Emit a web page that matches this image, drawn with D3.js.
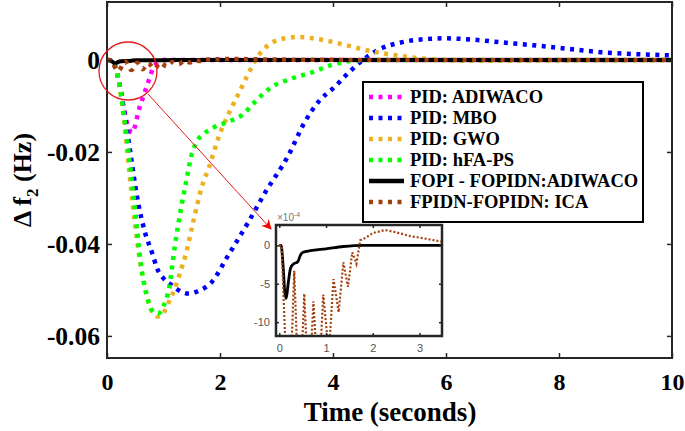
<!DOCTYPE html>
<html>
<head>
<meta charset="UTF-8">
<script src="https://d3js.org/d3.v7.min.js"></script>
<style>
    body { margin: 0; background: #fff; }
    svg { display: block; }
    .serif { font-family: "Liberation Serif", "Times New Roman", serif; font-weight: bold; fill: #000; }
    .tick-main text { font-family: "Liberation Serif", serif; font-weight: bold; font-size: 24px; fill: #000; }
    .tick-inset text { font-family: "Liberation Sans", Arial, sans-serif; font-size: 11px; fill: #555; }
</style>
</head>
<body>
<svg width="685" height="431"></svg>
<script>
// ---- data (t in seconds, Δf2 in Hz) ----
const xTicks = [0, 2, 4, 6, 8, 10];
const yTicks = [0, -0.02, -0.04, -0.06];
const insetXTicks = [0, 1, 2, 3];
const insetYTicks = [0, -5, -10];   // x10^-4

const pidAdiwaco = [[0,0],[0.1,-0.0003],[0.2,-0.004],[0.3,-0.0105],[0.38,-0.0148],[0.45,-0.0158],[0.5,-0.0142],[0.55,-0.0115],[0.64,-0.008],[0.73,-0.0048],[0.81,-0.002],[0.9,-0.0005],[1.0,0],[10,0]];
const pidMbo = [[0,0],[0.1,-0.0003],[0.2,-0.004],[0.3,-0.011],[0.4,-0.019],[0.53,-0.0296],[0.67,-0.0374],[0.8,-0.042],[0.89,-0.0454],[1.0,-0.0475],[1.15,-0.049],[1.3,-0.0503],[1.44,-0.0508],[1.6,-0.0503],[1.86,-0.0482],[2.14,-0.0426],[2.5,-0.0353],[2.8,-0.0288],[3.2,-0.021],[3.5,-0.0135],[3.77,-0.0087],[4.0,-0.0062],[4.3,-0.0025],[4.53,0],[4.8,0.0022],[5.2,0.0038],[5.6,0.0045],[5.95,0.0047],[6.5,0.0044],[7.0,0.0038],[7.54,0.0032],[8.1,0.0025],[8.73,0.0017],[9.3,0.0013],[10,0.001]];
const pidGwo = [[0,0],[0.1,-0.0003],[0.2,-0.004],[0.3,-0.013],[0.4,-0.025],[0.46,-0.032],[0.53,-0.039],[0.6,-0.045],[0.7,-0.051],[0.8,-0.0548],[0.9,-0.0558],[1.0,-0.055],[1.1,-0.0525],[1.2,-0.0497],[1.3,-0.046],[1.4,-0.042],[1.52,-0.0355],[1.68,-0.0275],[1.8,-0.0235],[2.0,-0.016],[2.2,-0.0105],[2.35,-0.0068],[2.5,-0.003],[2.7,0.0013],[2.9,0.0036],[3.1,0.0046],[3.4,0.005],[3.7,0.0046],[4.0,0.0039],[4.3,0.003],[4.6,0.0021],[4.9,0.0014],[5.3,0.0007],[5.8,0.0001],[6.5,-0.0002],[8,-0.0001],[10,0]];
const pidHfaps = [[0,0],[0.1,-0.0003],[0.2,-0.004],[0.3,-0.012],[0.4,-0.022],[0.5,-0.033],[0.6,-0.0445],[0.7,-0.051],[0.8,-0.0545],[0.9,-0.0552],[1.0,-0.0535],[1.1,-0.0495],[1.2,-0.0405],[1.3,-0.033],[1.4,-0.0265],[1.5,-0.0205],[1.6,-0.0175],[1.7,-0.0162],[1.9,-0.0146],[2.15,-0.0134],[2.4,-0.0119],[2.62,-0.0091],[2.9,-0.006],[3.25,-0.0041],[3.6,-0.0028],[4.0,-0.001],[4.6,0],[10,0]];
const fopiAdiwaco = [[0,0],[0.04,0],[0.08,-2.5e-4],[0.12,-6.2e-4],[0.15,-6.9e-4],[0.19,-5e-4],[0.24,-3e-4],[0.29,-2.5e-4],[0.4,-2.1e-4],[0.45,-1.3e-4],[0.51,-0.9e-4],[0.66,-0.7e-4],[1.0,-0.45e-4],[1.37,-0.15e-4],[1.8,0],[10,0]];
const fpidnIca = [[0,0],[0.05,0],[0.2,-24e-4],[0.32,-3.3e-4],[0.43,-22e-4],[0.535,-6.3e-4],[0.63,-20e-4],[0.73,-7.3e-4],[0.84,-19e-4],[0.94,-6.4e-4],[1.06,-14e-4],[1.16,-4.4e-4],[1.27,-8.7e-4],[1.37,-2.2e-4],[1.47,-5.4e-4],[1.56,-0.9e-4],[1.65,-2.4e-4],[1.73,0.65e-4],[1.85,1.0e-4],[2.0,1.6e-4],[2.26,2.0e-4],[2.5,1.7e-4],[2.8,1.2e-4],[3.1,0.9e-4],[3.48,0.47e-4],[4,0.2e-4],[5,0.05e-4],[10,0]];

const series = [
    { name: "PID: ADIWACO", data: pidAdiwaco, color: "#ff00ff", dotted: true },
    { name: "PID: MBO", data: pidMbo, color: "#0000ff", dotted: true },
    { name: "PID: GWO", data: pidGwo, color: "#edb120", dotted: true },
    { name: "PID: hFA-PS", data: pidHfaps, color: "#00ff00", dotted: true },
    { name: "FOPI - FOPIDN:ADIWACO", data: fopiAdiwaco, color: "#000000", dotted: false },
    { name: "FPIDN-FOPIDN: ICA", data: fpidnIca, color: "#a2400f", dotted: true }
];

const svg = d3.select("svg");
const plot = { left: 107, right: 672, top: 2, bottom: 358 };

const x = d3.scaleLinear().domain([0, 10]).range([plot.left, plot.right]);
const y = d3.scaleLinear().domain([-0.0648, 0.0126]).range([plot.bottom, plot.top]);

const defs = svg.append("defs");
defs.append("clipPath").attr("id", "clipMain")
    .append("rect").attr("x", plot.left).attr("y", plot.top)
    .attr("width", plot.right - plot.left).attr("height", plot.bottom - plot.top);

// curves
const line = d3.line().x(d => x(d[0])).y(d => y(d[1])).curve(d3.curveMonotoneX);
const curves = svg.append("g").attr("clip-path", "url(#clipMain)");
series.forEach(s => {
    curves.append("path")
        .attr("d", line(s.data))
        .attr("fill", "none")
        .attr("stroke", s.color)
        .attr("stroke-width", s.dotted ? 4.5 : 4)
        .attr("stroke-dasharray", s.dotted ? "4,5.5" : null);
});

// axes (hyphen minus like the original)
const fmtY = d => d === 0 ? "0" : d3.format(".2f")(d).replace("−", "-");
const gx = svg.append("g").attr("class", "tick-main")
    .attr("transform", `translate(0,${plot.bottom})`)
    .call(d3.axisBottom(x).tickValues(xTicks).tickSizeInner(-5).tickSizeOuter(0).tickPadding(10));
const gxTop = svg.append("g").attr("class", "tick-main")
    .attr("transform", `translate(0,${plot.top})`)
    .call(d3.axisTop(x).tickValues(xTicks).tickSizeInner(-5).tickSizeOuter(0).tickFormat(""));
const gy = svg.append("g").attr("class", "tick-main")
    .attr("transform", `translate(${plot.left},0)`)
    .call(d3.axisLeft(y).tickValues(yTicks).tickSizeInner(-5).tickSizeOuter(0).tickPadding(7).tickFormat(fmtY));
const gyR = svg.append("g").attr("class", "tick-main")
    .attr("transform", `translate(${plot.right},0)`)
    .call(d3.axisRight(y).tickValues(yTicks).tickSizeInner(-5).tickSizeOuter(0).tickFormat(""));
[gx, gxTop, gy, gyR].forEach(g => {
    g.select(".domain").remove();
    g.selectAll(".tick line").attr("stroke", "#262626").attr("stroke-width", 1.5);
});
gx.selectAll(".tick text").attr("dy", "0.9em");
gy.selectAll(".tick text").style("font-size", "25.5px");

svg.append("rect")
    .attr("x", plot.left).attr("y", plot.top)
    .attr("width", plot.right - plot.left).attr("height", plot.bottom - plot.top)
    .attr("fill", "none").attr("stroke", "#262626").attr("stroke-width", 2);

// axis labels
svg.append("text").attr("class", "serif")
    .attr("x", 390).attr("y", 421)
    .attr("text-anchor", "middle").attr("font-size", 27)
    .text("Time (seconds)");

const yl = svg.append("text").attr("class", "serif")
    .attr("transform", "translate(31,180) rotate(-90)")
    .attr("text-anchor", "middle").attr("font-size", 26);
yl.append("tspan").text("Δ  f");
yl.append("tspan").attr("font-size", 17).attr("dy", 7).text("2");
yl.append("tspan").attr("dy", -7).text(" (Hz)");

// legend
const legend = svg.append("g");
legend.append("rect")
    .attr("x", 363).attr("y", 82).attr("width", 280).attr("height", 140)
    .attr("fill", "#fff").attr("stroke", "#000").attr("stroke-width", 2);
series.forEach((s, i) => {
    const ly = 97 + i * 21;
    legend.append("line")
        .attr("x1", 369).attr("x2", 404).attr("y1", ly).attr("y2", ly)
        .attr("stroke", s.color).attr("stroke-width", 4.5)
        .attr("stroke-dasharray", s.dotted ? "4,5.5" : null);
    legend.append("text").attr("class", "serif")
        .attr("x", 410).attr("y", ly).attr("dy", "0.35em")
        .attr("font-size", 18.5).text(s.name);
});

// zoom circle and arrow
defs.append("marker")
    .attr("id", "arrow").attr("viewBox", "0 0 10 10")
    .attr("refX", 9).attr("refY", 5)
    .attr("markerWidth", 10).attr("markerHeight", 10)
    .attr("markerUnits", "userSpaceOnUse")
    .attr("orient", "auto")
    .append("path").attr("d", "M0,0 L10,5 L0,10 L3,5 Z").attr("fill", "#ff0000");
svg.append("ellipse")
    .attr("cx", 128).attr("cy", 71).attr("rx", 29).attr("ry", 29)
    .attr("fill", "none").attr("stroke", "#e41a1c").attr("stroke-width", 1.3);
svg.append("line")
    .attr("x1", 148).attr("y1", 94).attr("x2", 271).attr("y2", 229)
    .attr("stroke", "#e41a1c").attr("stroke-width", 1)
    .attr("marker-end", "url(#arrow)");

// inset
const ins = { left: 276, right: 442, top: 225, bottom: 336 };
const xi = d3.scaleLinear().domain([-0.07, 3.48]).range([ins.left, ins.right]);
const yi = d3.scaleLinear().domain([-11.8e-4, 2.65e-4]).range([ins.bottom, ins.top]);

svg.append("rect")
    .attr("x", ins.left).attr("y", ins.top)
    .attr("width", ins.right - ins.left).attr("height", ins.bottom - ins.top)
    .attr("fill", "#fff");
defs.append("clipPath").attr("id", "clipInset")
    .append("rect").attr("x", ins.left).attr("y", ins.top)
    .attr("width", ins.right - ins.left).attr("height", ins.bottom - ins.top);

const insCurves = svg.append("g").attr("clip-path", "url(#clipInset)");
insCurves.append("path")
    .attr("d", d3.line().x(d => xi(d[0])).y(d => yi(d[1])).curve(d3.curveMonotoneX)(fopiAdiwaco))
    .attr("fill", "none").attr("stroke", "#000").attr("stroke-width", 2.8);
insCurves.append("path")
    .attr("d", d3.line().x(d => xi(d[0])).y(d => yi(d[1])).curve(d3.curveLinear)(fpidnIca))
    .attr("fill", "none").attr("stroke", "#a2400f").attr("stroke-width", 2.2)
    .attr("stroke-dasharray", "2,2");

const gxi = svg.append("g").attr("class", "tick-inset")
    .attr("transform", `translate(0,${ins.bottom})`)
    .call(d3.axisBottom(xi).tickValues(insetXTicks).tickSizeInner(-3).tickSizeOuter(0).tickPadding(6)
        .tickFormat(d3.format("d")));
const gyi = svg.append("g").attr("class", "tick-inset")
    .attr("transform", `translate(${ins.left},0)`)
    .call(d3.axisLeft(yi).tickValues(insetYTicks.map(v => v * 1e-4)).tickSizeInner(-3).tickSizeOuter(0).tickPadding(6)
        .tickFormat(d => String(Math.round(d * 1e4))));
const gxiTop = svg.append("g")
    .attr("transform", `translate(0,${ins.top})`)
    .call(d3.axisTop(xi).tickValues(insetXTicks).tickSizeInner(-3).tickSizeOuter(0).tickFormat(""));
const gyiR = svg.append("g")
    .attr("transform", `translate(${ins.right},0)`)
    .call(d3.axisRight(yi).tickValues(insetYTicks.map(v => v * 1e-4)).tickSizeInner(-3).tickSizeOuter(0).tickFormat(""));
[gxi, gyi, gxiTop, gyiR].forEach(g => {
    g.select(".domain").remove();
    g.selectAll(".tick line").attr("stroke", "#262626").attr("stroke-width", 1.5);
});
gxi.selectAll(".tick text").attr("dy", "0.9em");

svg.append("rect")
    .attr("x", ins.left).attr("y", ins.top)
    .attr("width", ins.right - ins.left).attr("height", ins.bottom - ins.top)
    .attr("fill", "none").attr("stroke", "#262626").attr("stroke-width", 2.5);

const ex = svg.append("text")
    .attr("x", ins.left + 1).attr("y", ins.top - 4)
    .attr("font-family", "Liberation Sans, Arial, sans-serif")
    .attr("font-size", 10).attr("fill", "#777");
ex.append("tspan").text("×10");
ex.append("tspan").attr("font-size", 7).attr("dy", -4).text("-4");
</script>
</body>
</html>
